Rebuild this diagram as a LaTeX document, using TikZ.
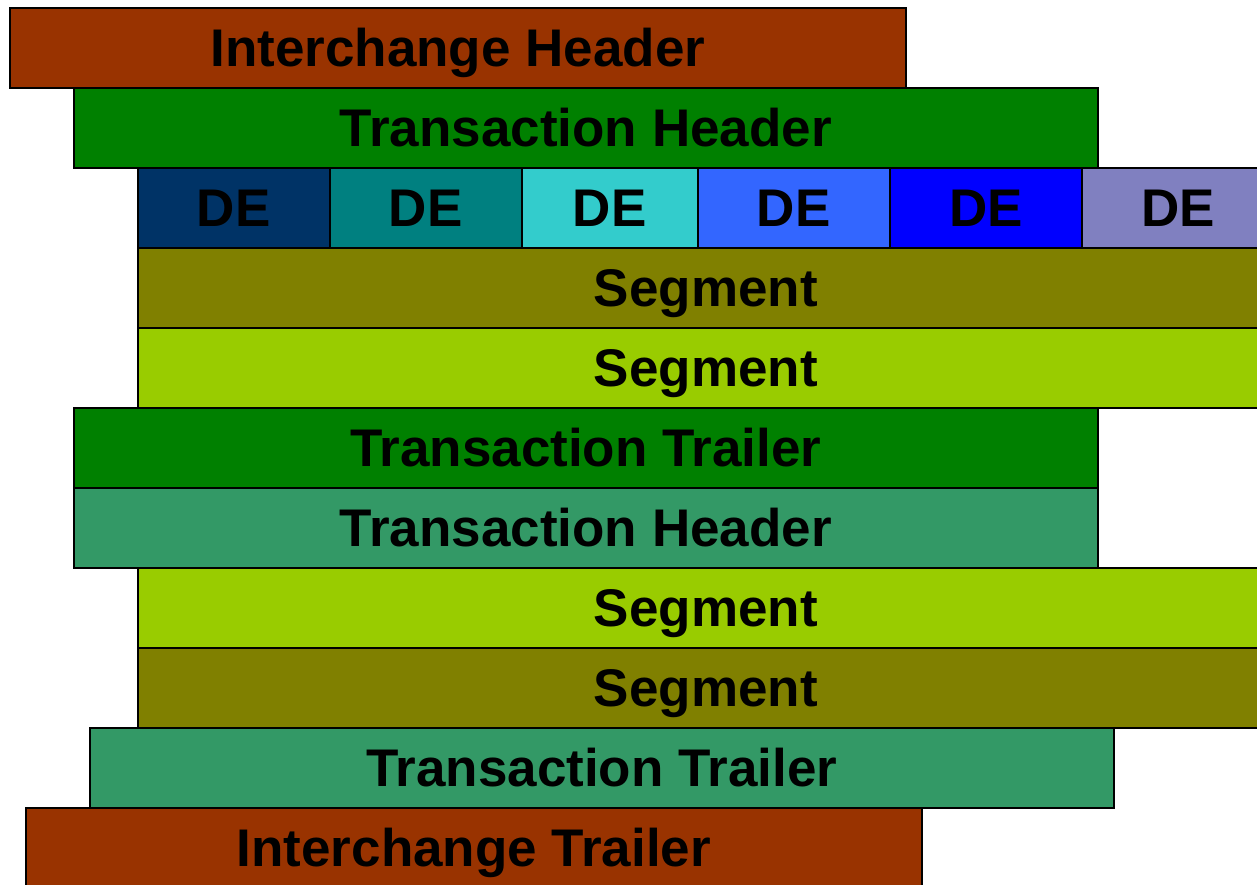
\documentclass[tikz,border=0pt]{standalone}
\usepackage{fontspec}
\setmainfont{Liberation Sans}

\definecolor{rust}{HTML}{993300}
\definecolor{hdrgreen}{HTML}{008000}
\definecolor{seagreen}{HTML}{339966}
\definecolor{olive}{HTML}{808000}
\definecolor{lime}{HTML}{99CC00}
\definecolor{navy}{HTML}{003366}
\definecolor{teal}{HTML}{008080}
\definecolor{aqua}{HTML}{33CCCC}
\definecolor{skyblue}{HTML}{3366FF}
\definecolor{pureblue}{HTML}{0000FF}
\definecolor{lavender}{HTML}{8080C0}

\begin{document}
\begin{tikzpicture}[x=1pt,y=-1pt,
  bar/.style={draw=black,line width=1.6pt,anchor=north west,inner sep=0pt,
    minimum height=80pt,text height=38pt,text depth=0pt,
    font=\fontsize{53}{53}\selectfont\bfseries}]

\useasboundingbox (0,0) rectangle (1257,884);
\clip (0,0) rectangle (1257,884);

% interchange and first transaction header:
\node[bar,fill=rust,minimum width=896pt] (ihead) at (9,7) {Interchange Header};
\node[bar,fill=hdrgreen,minimum width=1024pt] (thead1) at (73,87) {Transaction Header};

% data elements:
\node[bar,fill=navy,minimum width=192pt] (de1) at (137,167) {DE};
\node[bar,fill=teal,minimum width=192pt] (de2) at (329,167) {DE};
\node[bar,fill=aqua,minimum width=176pt] (de3) at (521,167) {DE};
\node[bar,fill=skyblue,minimum width=192pt] (de4) at (697,167) {DE};
\node[bar,fill=pureblue,minimum width=192pt] (de5) at (889,167) {DE};
\node[bar,fill=lavender,minimum width=192pt] (de6) at (1081,167) {DE};

% segments of the first transaction:
\node[bar,fill=olive,minimum width=1136pt] (seg1) at (137,247) {Segment};
\node[bar,fill=lime,minimum width=1136pt] (seg2) at (137,327) {Segment};
\node[bar,fill=hdrgreen,minimum width=1024pt] (ttrail1) at (73,407) {Transaction Trailer};

% second transaction:
\node[bar,fill=seagreen,minimum width=1024pt] (thead2) at (73,487) {Transaction Header};
\node[bar,fill=lime,minimum width=1136pt] (seg3) at (137,567) {Segment};
\node[bar,fill=olive,minimum width=1136pt] (seg4) at (137,647) {Segment};
\node[bar,fill=seagreen,minimum width=1024pt] (ttrail2) at (89,727) {Transaction Trailer};

% interchange trailer:
\node[bar,fill=rust,minimum width=896pt] (itrail) at (25,807) {Interchange Trailer};

\end{tikzpicture}
\end{document}
